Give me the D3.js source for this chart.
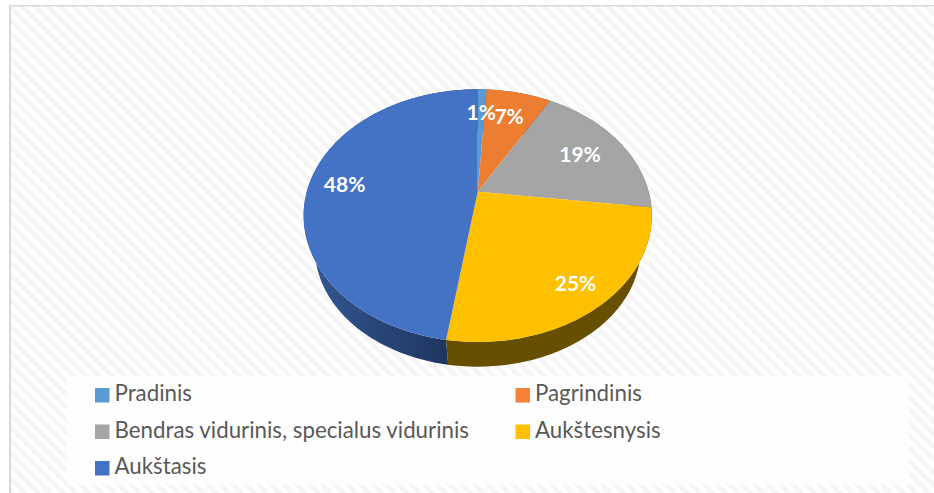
<!DOCTYPE html>
<html>
<head>
<meta charset="utf-8">
<script src="https://cdn.jsdelivr.net/npm/d3@7"></script>
<style>
body { margin: 0; background: #fff; }
svg { display: block; }
text { font-family: Lato, "Open Sans", sans-serif; }
</style>
</head>
<body>
<svg id="pieSvg" width="934" height="493"></svg>
<script>
const categories = ["Pradinis", "Pagrindinis", "Bendras vidurinis, specialus vidurinis", "Aukštesnysis", "Aukštasis"];
const shares = [1, 7.2, 18.8, 25.4, 47.6];
const labels = ["1%", "7%", "19%", "25%", "48%"];
const sliceColors = ["#5b9bd5", "#ed7d31", "#a5a5a5", "#ffc000", "#4472c4"];
const legendColors = ["#5b9bd5", "#f58235", "#a5a5a5", "#ffc000", "#4472c4"];

const svg = d3.select("#pieSvg");
const defs = svg.append("defs");

// faint diagonal hatch of the chart area
const hatch = defs.append("pattern")
    .attr("id", "hatch")
    .attr("width", 9).attr("height", 9)
    .attr("patternUnits", "userSpaceOnUse")
    .attr("patternTransform", "rotate(-45)");
hatch.append("rect").attr("width", 9).attr("height", 9).attr("fill", "#fff");
hatch.append("rect").attr("width", 4.5).attr("height", 9).attr("fill", "#f5f5f5");

const blueWall = defs.append("linearGradient")
    .attr("id", "blueWall")
    .attr("gradientUnits", "userSpaceOnUse")
    .attr("x1", 317).attr("x2", 446).attr("y1", 0).attr("y2", 0);
blueWall.append("stop").attr("offset", 0).attr("stop-color", "#32558f");
blueWall.append("stop").attr("offset", 1).attr("stop-color", "#1f3560");

svg.append("rect").attr("x", 10).attr("y", 5).attr("width", 924).attr("height", 488).attr("fill", "url(#hatch)");
svg.append("rect").attr("x", 9).attr("y", 5).attr("width", 925).attr("height", 1.5).attr("fill", "#d9d9d9");
svg.append("rect").attr("x", 9).attr("y", 5).attr("width", 2).attr("height", 488).attr("fill", "#d9d9d9");

// tilted disc: circle seen in perspective, pivot sits above the ellipse centre
const pivot = [477.7, 191.7];
const tilt = 0.1896, spanX = 170.9, spanY = 121.8;
const vanish = [477.7, 722], wallScale = 0.935;

function onDisc(angle, r = 1) {
    const u = r * Math.sin(angle), v = r * Math.cos(angle);
    const w = 1 + tilt * v;
    return [pivot[0] + spanX * u / w, pivot[1] - spanY * v / w];
}
function onWall(angle) {
    const p = onDisc(angle);
    return [vanish[0] + wallScale * (p[0] - vanish[0]), vanish[1] + wallScale * (p[1] - vanish[1])];
}

const arcs = d3.pie().sort(null)(shares);
const line = d3.line();

function rim(d, fn) {
    const n = Math.max(2, Math.ceil((d.endAngle - d.startAngle) * 60));
    return d3.range(n + 1).map(i => fn(d.startAngle + (d.endAngle - d.startAngle) * i / n));
}

// side wall first, only the front part ends up visible
const wallFill = i => i === 4 ? "url(#blueWall)" : d3.color(sliceColors[i]).darker(1.9).formatHex();
svg.append("g").selectAll("path")
    .data(arcs)
    .enter()
    .append("path")
    .attr("d", d => line(rim(d, onDisc).concat(rim(d, onWall).reverse())) + "Z")
    .attr("fill", (d, i) => i === 3 ? "#665000" : wallFill(i));

svg.append("g").selectAll("path")
    .data(arcs)
    .enter()
    .append("path")
    .attr("d", d => line([pivot].concat(rim(d, onDisc))) + "Z")
    .attr("fill", (d, i) => sliceColors[i]);

// data labels
const labelRadius = [0.74, 0.73, 0.71, 0.83, 0.79];
svg.append("g").selectAll("text")
    .data(arcs)
    .enter()
    .append("text")
    .attr("transform", (d, i) => {
        const p = onDisc((d.startAngle + d.endAngle) / 2, labelRadius[i]);
        return `translate(${p[0]},${p[1]})`;
    })
    .attr("text-anchor", "middle")
    .attr("dy", "0.35em")
    .attr("font-size", 21)
    .attr("font-weight", 700)
    .attr("fill", "#fff")
    .text((d, i) => labels[i]);

// legend
svg.append("rect").attr("x", 67).attr("y", 376).attr("width", 842).attr("height", 109).attr("fill", "#fff").attr("fill-opacity", 0.8);

const legendX = d3.scaleOrdinal().domain([0, 1]).range([95, 515.5]);
const legendY = d3.scaleOrdinal().domain([0, 1, 2]).range([395, 431.5, 468]);
const legend = svg.append("g").selectAll("g")
    .data(categories)
    .enter()
    .append("g")
    .attr("transform", (d, i) => `translate(${legendX(i % 2)},${legendY(Math.floor(i / 2))})`);
legend.append("rect")
    .attr("y", -7).attr("width", 14.5).attr("height", 14.5)
    .attr("fill", (d, i) => legendColors[i]);
legend.append("text")
    .attr("x", 19.5).attr("y", 6)
    .attr("font-size", 22.3)
    .attr("fill", "#595959")
    .text(d => d);
</script>
</body>
</html>
